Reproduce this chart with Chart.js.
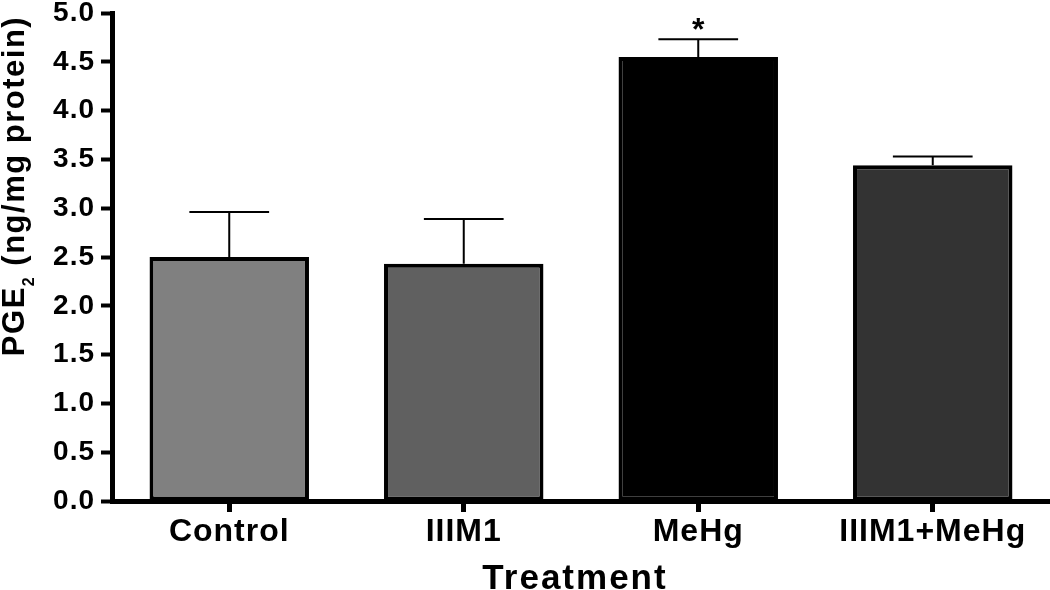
<!DOCTYPE html>
<html>
<head>
<meta charset="utf-8">
<title>PGE2 by treatment</title>
<script src="https://cdn.jsdelivr.net/npm/chart.js@4.4.1/dist/chart.umd.min.js"></script>
<style>
  html, body { margin: 0; padding: 0; background: #fff; }
  #wrap { width: 1050px; height: 590px; position: relative; }
</style>
</head>
<body>
<div id="wrap"><canvas id="pgeChart"></canvas></div>
<script>
const categories = ['Control', 'IIIM1', 'MeHg', 'IIIM1+MeHg'];
const meanValues = [2.50, 2.43, 4.55, 3.44];
const semValues = [0.46, 0.46, 0.18, 0.09];
const significance = ['', '', '*', ''];
const barColors = ['#808080', '#606060', '#000000', '#333333'];
const yTickValues = [0, 0.5, 1, 1.5, 2, 2.5, 3, 3.5, 4, 4.5, 5];
const yTickLabels = ['0.0', '0.5', '1.0', '1.5', '2.0', '2.5', '3.0', '3.5', '4.0', '4.5', '5.0'];

const FONT = '"Liberation Sans", Arial, Helvetica, sans-serif';

// a bit of letter spacing for the tick labels, like the original export
const spacingPlugin = {
  id: 'spacing',
  beforeDraw(chart) {
    chart.ctx.letterSpacing = '1px';
  }
};

// error bars + significance star
const errorBarPlugin = {
  id: 'errorBars',
  afterDatasetsDraw(chart) {
    const ctx = chart.ctx;
    const yScale = chart.scales.y;
    const meta = chart.getDatasetMeta(0);
    ctx.save();
    ctx.strokeStyle = '#000';
    ctx.fillStyle = '#000';
    ctx.lineWidth = 2;
    meta.data.forEach((bar, i) => {
      const top = yScale.getPixelForValue(meanValues[i]);
      const end = yScale.getPixelForValue(meanValues[i] + semValues[i]);
      const half = bar.width / 4;
      ctx.beginPath();
      ctx.moveTo(bar.x, top);
      ctx.lineTo(bar.x, end);
      ctx.moveTo(bar.x - half, end);
      ctx.lineTo(bar.x + half, end);
      ctx.stroke();
      if (significance[i]) {
        ctx.letterSpacing = '0px';
        ctx.font = 'bold 32px ' + FONT;
        ctx.textAlign = 'center';
        ctx.textBaseline = 'alphabetic';
        ctx.fillText(significance[i], bar.x, end + 1);
      }
    });
    ctx.restore();
  }
};

// axis titles (y title needs a subscript)
const axisTitlePlugin = {
  id: 'axisTitles',
  afterDraw(chart) {
    const ctx = chart.ctx;
    ctx.save();
    ctx.fillStyle = '#000';
    ctx.textBaseline = 'alphabetic';
    ctx.letterSpacing = '1.5px';

    const parts = [
      { text: 'PGE', font: 'bold 31px ' + FONT, dy: 0 },
      { text: '2', font: 'bold 16px ' + FONT, dy: 10 },
      { text: ' (ng/mg protein)', font: 'bold 31px ' + FONT, dy: 0 }
    ];
    let total = 0;
    parts.forEach(p => { ctx.font = p.font; p.w = ctx.measureText(p.text).width; total += p.w; });
    ctx.translate(24, 186);
    ctx.rotate(-Math.PI / 2);
    ctx.textAlign = 'left';
    let x = -total / 2;
    parts.forEach(p => {
      ctx.font = p.font;
      ctx.fillText(p.text, x, p.dy);
      x += p.w;
    });
    ctx.setTransform(1, 0, 0, 1, 0, 0);

    ctx.letterSpacing = '2px';
    ctx.font = 'bold 35px ' + FONT;
    ctx.textAlign = 'center';
    ctx.fillText('Treatment', 575, 589);
    ctx.restore();
  }
};

const ctx = document.getElementById('pgeChart').getContext('2d');

window.myChart = new Chart(ctx, {
  type: 'bar',
  data: {
    labels: categories,
    datasets: [{
      data: meanValues,
      backgroundColor: barColors,
      borderColor: '#000',
      borderWidth: 4,
      borderSkipped: false,
      categoryPercentage: 1.0,
      barPercentage: 0.68
    }]
  },
  options: {
    responsive: true,
    maintainAspectRatio: false,
    animation: false,
    layout: { padding: { top: 13, right: 0, bottom: 0, left: 0 } },
    plugins: {
      legend: { display: false },
      tooltip: { enabled: false }
    },
    scales: {
      x: {
        offset: true,
        grid: {
          drawOnChartArea: false,
          drawTicks: true,
          offset: false,
          tickLength: 11,
          tickWidth: 5,
          tickColor: '#000'
        },
        border: { display: true, color: '#000', width: 5 },
        ticks: {
          color: '#000',
          font: { family: FONT, size: 32, weight: 'bold' },
          padding: 1,
          maxRotation: 0,
          autoSkip: false
        },
        afterFit(scale) {
          scale.height = 89;
        }
      },
      y: {
        min: 0,
        max: 5,
        grid: {
          drawOnChartArea: false,
          drawTicks: true,
          tickLength: 11,
          tickWidth: 4,
          tickColor: '#000'
        },
        border: { display: true, color: '#000', width: 5 },
        ticks: {
          color: '#000',
          font: { family: FONT, size: 28, weight: 'bold' },
          padding: 6,
          callback: (value) => yTickLabels[yTickValues.indexOf(value)]
        },
        afterBuildTicks(scale) {
          scale.ticks = yTickValues.map(v => ({ value: v }));
        },
        afterFit(scale) {
          scale.width = 112;
          scale.paddingTop = 0;
          scale.paddingBottom = 0;
        }
      }
    }
  },
  plugins: [spacingPlugin, errorBarPlugin, axisTitlePlugin]
});
</script>
</body>
</html>
